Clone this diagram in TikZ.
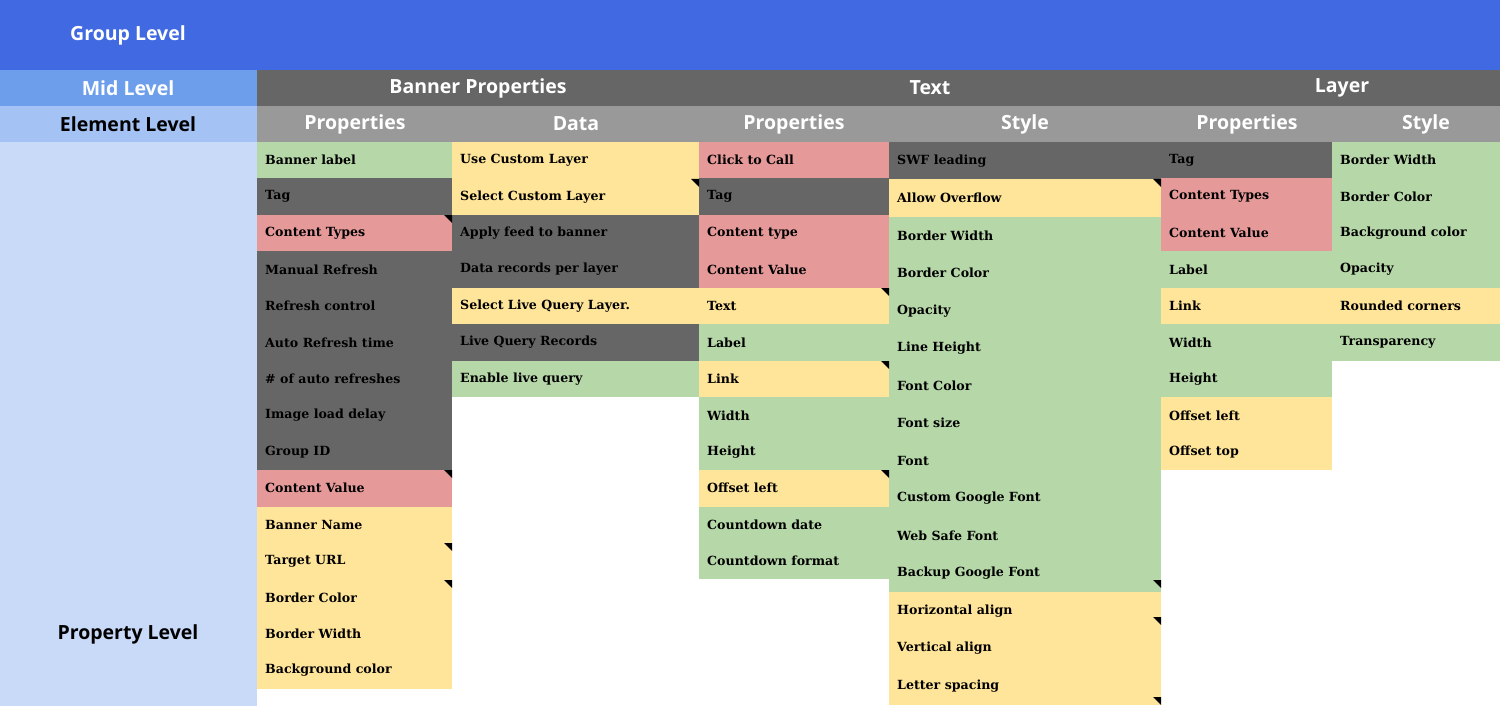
\documentclass[tikz,border=0pt]{standalone}
\usepackage{fontspec}
\setmainfont{DejaVu Serif}
\newfontfamily\hdr{Open Sans}
\begin{document}
\begin{tikzpicture}[x=1pt,y=1pt,
  cellg/.style={fill=cg,text=black},
  celld/.style={fill=cd,text=white},
  cellr/.style={fill=cr,text=black},
  celly/.style={fill=cy,text=black},
  ctext/.style={anchor=west,font=\bfseries\fontsize{12.6}{14}\selectfont,inner sep=0pt},
  htext/.style={font=\hdr\bfseries\fontsize{19.5}{22}\selectfont,inner sep=0pt}]
\definecolor{cg}{HTML}{B6D7A8}\definecolor{cd}{HTML}{666666}
\definecolor{cr}{HTML}{E69999}\definecolor{cy}{HTML}{FFE599}
\definecolor{cgrp}{HTML}{4169E1}\definecolor{cmid}{HTML}{6D9EEB}
\definecolor{cel}{HTML}{A4C2F4}\definecolor{cpr}{HTML}{C9DAF8}
\definecolor{hmid}{HTML}{666666}\definecolor{hel}{HTML}{999999}
\useasboundingbox (0,0) rectangle (1500,-706);
\clip (0,0) rectangle (1500,-706);
\fill[white] (0,0) rectangle (1500,-706);
% left column + header rows
\fill[cgrp] (0,0) rectangle (1500,-70);
\fill[cmid] (0,-70) rectangle (257,-106);
\fill[cel] (0,-106) rectangle (257,-142);
\fill[cpr] (0,-142) rectangle (257,-706);
\fill[hmid] (257,-70) rectangle (1500,-106);
\fill[hel] (257,-106) rectangle (1500,-142);
\node[htext,text=white] (grp) at (128,-35) {Group Level};
\node[htext,text=white] (mid) at (128,-88) {Mid Level};
\node[htext,text=black] (el) at (128,-124) {Element Level};
\node[htext,text=black] (pl) at (128,-634) {Property Level};
\node[htext,text=white] (m1) at (478,-88) {Banner Properties};
\node[htext,text=white] (m2) at (930,-88) {Text};
\node[htext,text=white] (m3) at (1342,-88) {Layer};
\foreach \cx/\t/\n in {355/Properties/e1,576/Data/e2,794/Properties/e3,1025/Style/e4,1247/Properties/e5,1426/Style/e6}
  \node[htext,text=white] (\n) at (\cx,-124) {\t};
% columns
\newcommand\mycol[5]{% x1, x2, rowh, name, list
  \foreach \s/\t [count=\i] in {#5} {
    \path[cell\s] (#1,{-142-(\i-1)*#3}) rectangle (#2,{-142-\i*#3});
    \node[ctext,text=\ifx\s d white\else black\fi] (#4-\i) at (#1+8,{-142-(\i-0.5)*#3}) {\t};
  }}
\mycol{257}{452}{36.45}{a}{g/Banner label,d/Tag,r/Content Types,d/Manual Refresh,d/Refresh control,d/Auto Refresh time,d/\# of auto refreshes,d/Image load delay,d/Group ID,r/Content Value,y/Banner Name,y/Target URL,y/Border Color,y/Border Width,y/Background color}
\mycol{452}{699}{36.45}{b}{y/Use Custom Layer,y/Select Custom Layer,d/Apply feed to banner,d/Data records per layer,y/Select Live Query Layer.,d/Live Query Records,g/Enable live query}
\mycol{699}{889}{36.45}{c}{r/Click to Call,d/Tag,r/Content type,r/Content Value,y/Text,g/Label,y/Link,g/Width,g/Height,y/Offset left/top,g/Countdown date,g/Countdown format}
\mycol{889}{1161}{37.5}{d}{d/SWF leading,y/Allow Overflow,g/Border Width,g/Border Color,g/Opacity,g/Line Height,g/Font Color,g/Font size,g/Font,g/Custom Google Font,g/Web Safe Font,g/Backup Google Font,y/Horizontal align,y/Vertical align,y/Letter spacing}
\mycol{1161}{1332}{36.45}{e}{d/Tag,r/Content Types,r/Content Value,g/Label,y/Link,g/Width,g/Height,y/Offset left,y/Offset top}
\mycol{1332}{1510}{36.45}{f}{g/Border Width,g/Border Color,g/Background color,g/Opacity,y/Rounded corners,g/Transparency}
% comment markers
\foreach \x/\y in {452/-215,452/-470,452/-543,452/-580,699/-179,889/-288,889/-361,889/-470,1161/-179,1161/-580,1161/-617}
  \fill[black] (\x,\y) -- ++(-8,0) -- ++(8,-8) -- cycle;
\fill[black] (1161,-697) -- ++(-8,0) -- ++(8,-8) -- cycle;
\end{tikzpicture}
\end{document}
